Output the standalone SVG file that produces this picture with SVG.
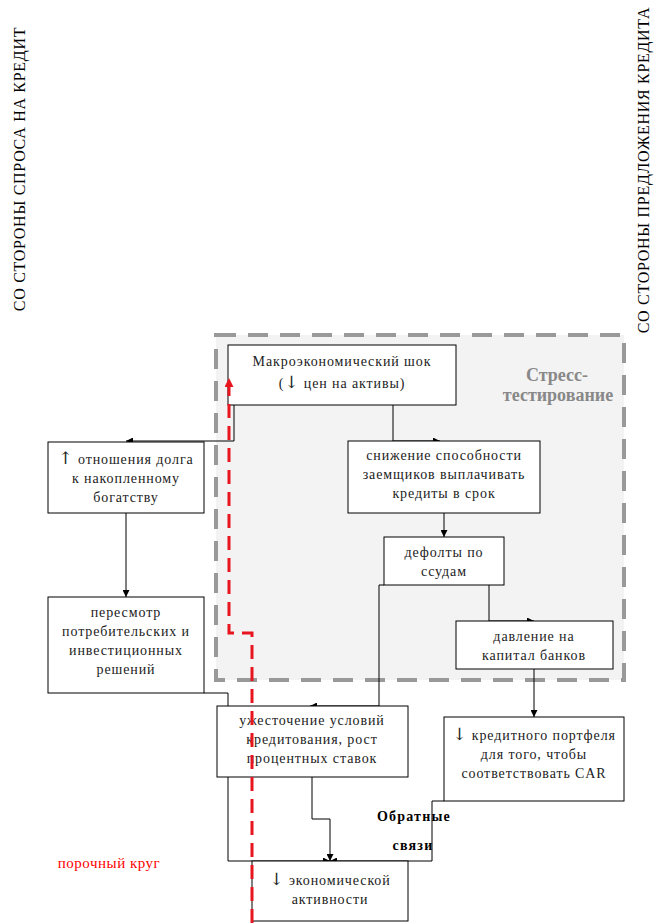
<svg xmlns="http://www.w3.org/2000/svg" width="660" height="923" viewBox="0 0 660 923">
<defs>
<style>
text{font-family:"Liberation Serif","DejaVu Serif",serif}
.box{fill:#fff;stroke:#000;stroke-width:1}
.t{font-size:14px;fill:#222;text-anchor:middle;letter-spacing:0.9px}
.ar{font-family:"DejaVu Serif",serif;font-size:17px}
.c{fill:none;stroke:#000;stroke-width:1}
.red{fill:none;stroke:#e8141e;stroke-width:3;stroke-dasharray:14,8}
.st{font-size:18px;font-weight:bold;fill:#888;text-anchor:middle}
.side{font-size:16px;fill:#000;text-anchor:middle;letter-spacing:0.7px}
.fb{font-size:14px;font-weight:bold;fill:#000;text-anchor:middle;letter-spacing:1.2px}
</style>
<marker id="ah" viewBox="0 0 10 10" refX="10" refY="5" markerWidth="7" markerHeight="7" markerUnits="userSpaceOnUse" orient="auto">
<path d="M0,0 L10,5 L0,10 z" fill="#000"/>
</marker>
<marker id="ahr" viewBox="0 0 10 10" refX="10" refY="5" markerWidth="9" markerHeight="9" markerUnits="userSpaceOnUse" orient="auto">
<path d="M0,0 L10,5 L0,10 z" fill="#e8141e"/>
</marker>
</defs>
<rect width="660" height="923" fill="#fff"/>
<g id="stress">
<rect x="216" y="335" width="408" height="345" fill="#f3f3f3" stroke="#999" stroke-width="4" stroke-dasharray="20,12"/>
<text class="st" x="557" y="381">Стресс-</text>
<text class="st" x="558" y="401">тестирование</text>
</g>
<g id="side-labels">
<text class="side" transform="translate(25,169) rotate(-90)">СО СТОРОНЫ СПРОСА НА КРЕДИТ</text>
<text class="side" transform="translate(649,170) rotate(-90)">СО СТОРОНЫ ПРЕДЛОЖЕНИЯ КРЕДИТА</text>
</g>
<g id="connectors">
<path class="c" d="M393,405 V441 H440" marker-end="url(#ah)"/>
<path class="c" d="M234,405 V441 H126" marker-end="url(#ah)"/>
<path class="c" d="M126,513 V597" marker-end="url(#ah)"/>
<path class="c" d="M444,513 V537" marker-end="url(#ah)"/>
<path class="c" d="M384,585 H379 V706 H310" marker-end="url(#ah)"/>
<path class="c" d="M489,585 V621 H534" marker-end="url(#ah)"/>
<path class="c" d="M534,669 V717" marker-end="url(#ah)"/>
<path class="c" d="M204,693 H228 V861 H330" marker-end="url(#ah)"/>
<path class="c" d="M444,801 H432 V861 H330" marker-end="url(#ah)"/>
<path class="c" d="M312,777 V819 H330 V861" marker-end="url(#ah)"/>
</g>
<g id="macro">
<rect class="box" x="228" y="345" width="228" height="60"/>
<text class="t" x="342" y="366">Макроэкономический шок</text>
<text class="t" x="342" y="388">(<tspan class="ar">↓</tspan> цен на активы)</text>
</g>
<g id="debt">
<rect class="box" x="48" y="442" width="156" height="71"/>
<text class="t" x="126" y="464"><tspan class="ar">↑</tspan> отношения долга</text>
<text class="t" x="126" y="483">к накопленному</text>
<text class="t" x="126" y="502">богатству</text>
</g>
<g id="ability">
<rect class="box" x="348" y="441" width="192" height="72"/>
<text class="t" x="444" y="460">снижение способности</text>
<text class="t" x="444" y="479">заемщиков выплачивать</text>
<text class="t" x="444" y="498">кредиты в срок</text>
</g>
<g id="defaults">
<rect class="box" x="384" y="537" width="120" height="48"/>
<text class="t" x="444" y="557">дефолты по</text>
<text class="t" x="444" y="576">ссудам</text>
</g>
<g id="revision">
<rect class="box" x="48" y="597" width="156" height="96"/>
<text class="t" x="126" y="617">пересмотр</text>
<text class="t" x="126" y="636">потребительских и</text>
<text class="t" x="126" y="655">инвестиционных</text>
<text class="t" x="126" y="674">решений</text>
</g>
<g id="capital">
<rect class="box" x="456" y="621" width="157" height="48"/>
<text class="t" x="534" y="641">давление на</text>
<text class="t" x="534" y="660">капитал банков</text>
</g>
<g id="tightening">
<rect class="box" x="217" y="706" width="191" height="71"/>
<text class="t" x="312" y="725">ужесточение условий</text>
<text class="t" x="312" y="744">кредитования, рост</text>
<text class="t" x="312" y="763">процентных ставок</text>
</g>
<g id="portfolio">
<rect class="box" x="444" y="717" width="180" height="84"/>
<text class="t" x="534" y="740"><tspan class="ar">↓</tspan> кредитного портфеля</text>
<text class="t" x="534" y="759">для того, чтобы</text>
<text class="t" x="534" y="778">соответствовать CAR</text>
</g>
<g id="economy">
<rect class="box" x="252" y="861" width="156" height="60"/>
<text class="t" x="330" y="885"><tspan class="ar">↓</tspan> экономической</text>
<text class="t" x="330" y="904">активности</text>
</g>
<g id="feedback">
<text class="fb" x="414" y="821">Обратные</text>
<text class="fb" x="413" y="850">связи</text>
</g>
<g id="vicious-circle">
<path class="red" d="M252,923 V633 H229 V378" marker-end="url(#ahr)"/>
<text x="109" y="868" style="font-size:15px;fill:#f00;text-anchor:middle;letter-spacing:0.5px">порочный круг</text>
</g>
</svg>
